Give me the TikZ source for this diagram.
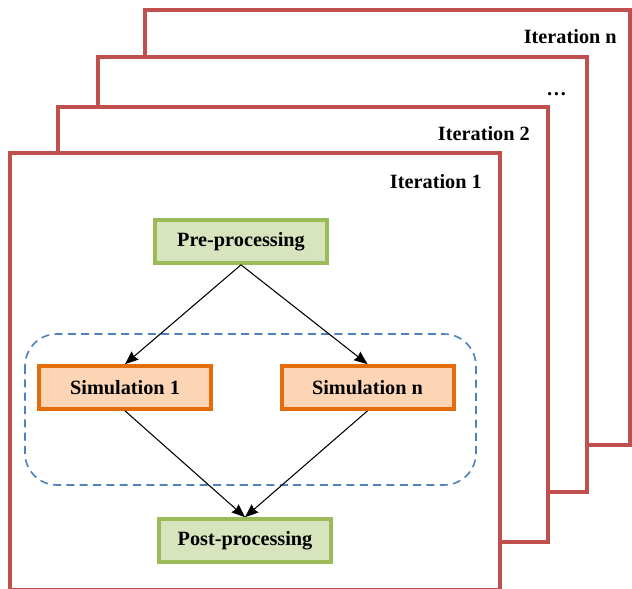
\documentclass[tikz,border=0pt]{standalone}
\usepackage{fontspec}
\setmainfont{Liberation Serif}
\usetikzlibrary{arrows.meta}

\definecolor{framered}{HTML}{C0504D}
\definecolor{stepgreen}{HTML}{9BBB59}
\definecolor{stepgreenfill}{HTML}{D7E4BD}
\definecolor{simorange}{HTML}{E46C0A}
\definecolor{simorangefill}{HTML}{FCD5B5}
\definecolor{groupblue}{HTML}{4F81BD}

\begin{document}
\begin{tikzpicture}[x=0.75pt,y=-0.75pt]
\useasboundingbox (0,0) rectangle (632,589);

\begin{scope}[
    iterframe/.style={draw=framered,line width=3pt,fill=white},
    every node/.style={font=\fontsize{15.2}{18}\selectfont\bfseries,inner sep=0pt}]
    % back to front
    \draw[iterframe] (145,10) rectangle (630,445);
    \node (labn) at (617,43) [anchor=base east] {Iteration n};

    \draw[iterframe] (98,57) rectangle (587,492);
    \node (labdots) at (567,95) [anchor=base east] {…};

    \draw[iterframe] (58,107) rectangle (548,542);
    \node (lab2) at (530,140) [anchor=base east] {Iteration 2};

    \draw[iterframe] (10,153) rectangle (500,590);
    \node (lab1) at (482,188) [anchor=base east] {Iteration 1};
\end{scope}

% group of simulations
\draw[groupblue,line width=1.2pt,dash pattern=on 6pt off 4pt,rounded corners=24pt]
    (25,334) rectangle (476,485);

\begin{scope}[
    every node/.style={rectangle,line width=3pt,minimum width=129pt,minimum height=32pt,
                       font=\fontsize{15.2}{18}\selectfont\bfseries},
    prestep/.style={draw=stepgreen,fill=stepgreenfill},
    simstep/.style={draw=simorange,fill=simorangefill}]
    \node (pre) at (241,241.5) [prestep] {Pre-processing};

    \node (sim1) at (125,387.5) [simstep] {Simulation 1};
    \node (simn) at (367.5,387.5) [simstep] {Simulation n};

    \node (post) at (245,540.5) [prestep] {Post-processing};
\end{scope}

\begin{scope}[>={Stealth[black,length=10pt,width=8pt,inset=1pt]},
              every edge/.style={draw=black,line width=0.8pt}]
    \path [->] (pre.south) edge (sim1.north);
    \path [->] (pre.south) edge (simn.north);

    \path [->] (sim1.south) edge (post.north);
    \path [->] (simn.south) edge (post.north);
\end{scope}
\end{tikzpicture}
\end{document}
